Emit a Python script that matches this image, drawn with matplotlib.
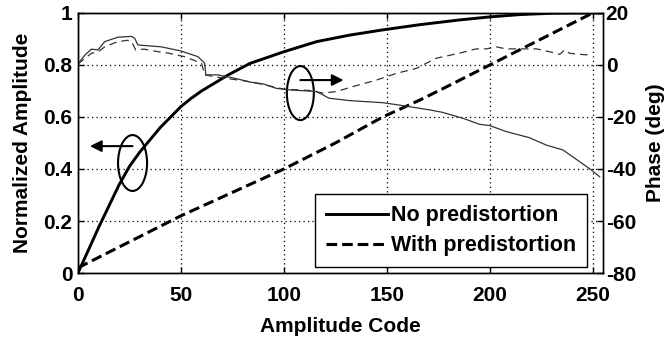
import matplotlib.pyplot as plt
from matplotlib.patches import Ellipse

plt.rcParams['font.family'] = ['Liberation Sans', 'DejaVu Sans']
plt.rcParams['font.weight'] = 'bold'
plt.rcParams['axes.unicode_minus'] = False

# amplitude transfer, no predistortion (thick solid)
code_amp_no = [0, 10, 20, 25, 30, 40, 50, 55, 60, 73, 83.5, 100, 116, 132, 148,
               166, 185, 200, 215, 230, 240, 255]
amp_no = [0, 0.175, 0.34, 0.41, 0.465, 0.56, 0.64, 0.672, 0.70, 0.762, 0.806,
          0.851, 0.89, 0.915, 0.935, 0.955, 0.973, 0.985, 0.994, 0.999, 1.0, 1.0]

# amplitude transfer, with predistortion (thick dashed)
code_amp_pd = [0, 10, 25, 50, 75, 100, 125, 148, 166, 180, 200, 215, 230, 240, 250]
amp_pd = [0.02, 0.06, 0.12, 0.22, 0.31, 0.40, 0.50, 0.60, 0.665, 0.72, 0.80,
          0.86, 0.92, 0.96, 1.0]

# phase, no predistortion (thin solid)
code_ph_no = [0, 3.3, 6.5, 9.7, 13, 19.4, 25.9, 27.5, 29.1, 40.3, 50, 58.3, 61.5,
              62.1, 68, 76, 84, 90, 96.4, 103, 115.9, 122, 132, 148, 156, 171,
              177, 187, 195, 200, 208, 219, 227.5, 235.6, 243.7, 249.4, 253.4]
phase_no = [0.4, 3.8, 6.1, 5.8, 9, 10.7, 11, 10.3, 7.7, 7, 5.4, 3.2, 0.7,
            -3.8, -3.8, -5.1, -6.6, -7.3, -9, -9.6, -10.2, -12.8, -13.7, -14.5,
            -15.4, -17.3, -18.2, -20.5, -22.8, -23.3, -25.6, -27.9, -30.8, -32.7,
            -37.2, -40.4, -43]

# phase, with predistortion (thin dashed)
code_ph_pd = [0, 3.3, 6.5, 9.7, 13, 19.4, 24, 26, 28, 32, 39, 43.7, 51.8, 60,
              61.5, 71, 80, 90, 100, 112.6, 119, 125.6, 133.5, 145, 154.7, 164.4,
              169, 174, 185, 193.5, 198.4, 203, 208, 214.6, 222.7, 229, 234,
              236.4, 238.8, 243.7, 249.4]
phase_pd = [0.4, 2.5, 4.5, 5, 7, 9, 9.5, 9, 5.8, 6.1, 5.1, 4.6, 3.2, 0.7,
            -3.8, -5.1, -6, -7.5, -9.3, -9.8, -10.8, -10.2, -8.3, -5.8, -3.2,
            -1.3, 0.6, 2.6, 4.5, 6.2, 6.2, 7, 6.2, 6.2, 6.2, 5.1, 4.1, 5.8, 4.5,
            4.1, 3.8]

fig = plt.figure(figsize=(6.69, 3.41), dpi=100)
ax1 = fig.add_axes([0.1166, 0.1994, 0.7847, 0.7625])
ax2 = ax1.twinx()

l1, = ax1.plot(code_amp_no, amp_no, color='k', lw=2.1)
l2, = ax1.plot(code_amp_pd, amp_pd, color='k', lw=2.2, dashes=(3.5, 1.6))
ax2.plot(code_ph_no, phase_no, color='#333333', lw=0.9)
ax2.plot(code_ph_pd, phase_pd, color='#333333', lw=0.9, dashes=(6, 4))

ax1.set_xlim(0, 255)
ax1.set_ylim(0, 1)
ax2.set_ylim(-80, 20)
ax1.set_xticks([0, 50, 100, 150, 200, 250])
ax1.set_yticks([0, 0.2, 0.4, 0.6, 0.8, 1])
ax1.set_yticklabels(['0', '0.2', '0.4', '0.6', '0.8', '1'])
ax2.set_yticks([-80, -60, -40, -20, 0, 20])

ax1.grid(True, color='k', lw=0.9, linestyle=(0, (1, 2.6)))
ax1.tick_params(direction='in', length=4, labelsize=15, top=True, width=1)
ax1.tick_params(axis='x', pad=9)
ax1.tick_params(axis='y', pad=4)
ax2.tick_params(direction='in', length=4, labelsize=15, width=1, pad=2)
for ax in (ax1, ax2):
    for s in ax.spines.values():
        s.set_linewidth(1.0)

ax1.set_xlabel('Amplitude Code', fontsize=15, fontweight='bold', labelpad=9)
ax1.set_ylabel('Normalized Amplitude', fontsize=15, fontweight='bold', labelpad=8)
ax2.set_ylabel('Phase (deg)', fontsize=15, fontweight='bold', labelpad=7)

# annotation ellipses and arrows
ax1.add_patch(Ellipse((26.5, 0.423), 14.1, 0.215, fill=False, color='k', lw=1.5))
ax1.add_patch(Ellipse((108, 0.692), 13.1, 0.208, fill=False, color='k', lw=1.5))
ax1.annotate('', xy=(5.8, 0.488), xytext=(26.5, 0.488),
             arrowprops=dict(arrowstyle='-|>', color='k', lw=1.5, mutation_scale=17,
                             shrinkA=0, shrinkB=0))
ax1.annotate('', xy=(129, 0.742), xytext=(108, 0.742),
             arrowprops=dict(arrowstyle='-|>', color='k', lw=1.5, mutation_scale=17,
                             shrinkA=0, shrinkB=0))

leg = ax2.legend([l1, l2], ['No predistortion', 'With predistortion'],
                 loc='lower right', bbox_to_anchor=(0.970, 0.023), borderaxespad=0,
                 prop={'size': 15.5, 'weight': 'bold'}, fancybox=False,
                 edgecolor='k', framealpha=1, handlelength=2.9, handletextpad=0.15,
                 labelspacing=0.42, borderpad=0.5)
leg.get_frame().set_linewidth(1.0)

fig.savefig('out.png', dpi=100)
